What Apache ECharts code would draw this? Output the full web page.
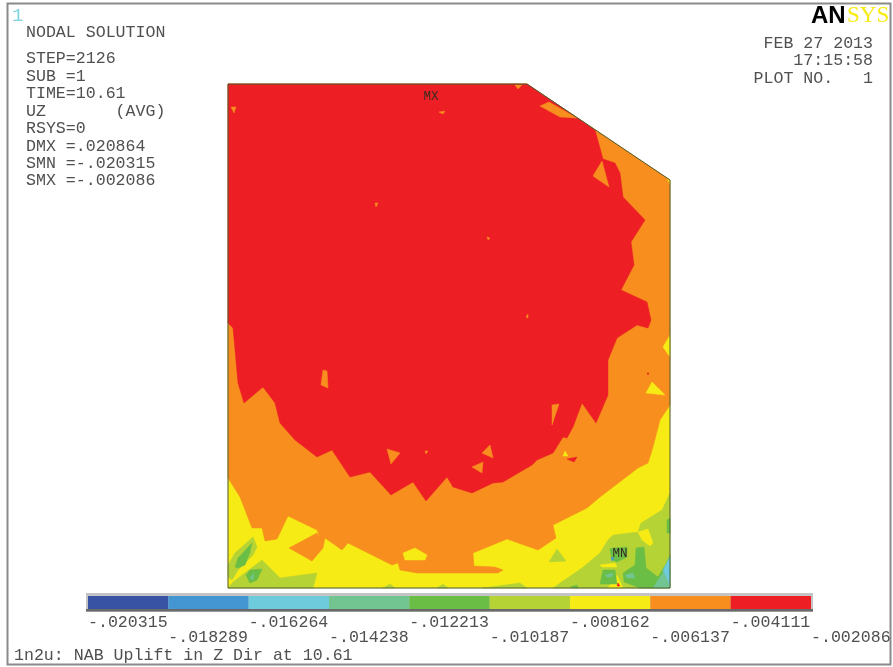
<!DOCTYPE html>
<html><head><meta charset="utf-8">
<style>html,body{margin:0;padding:0;background:#fff}#c{width:893px;height:667px}</style>
<script src="https://cdn.jsdelivr.net/npm/echarts@6/dist/echarts.min.js"></script>
</head><body><div id="c"></div>
<script>
// Contour band colours, lowest to highest
const bandColors = ['#3953a4','#4496d2','#6dcbdc','#72c490','#6abd45','#b5d334','#f6eb14','#f78e1e','#ed1f24'];
// Contour level tick labels
const tickLabels = ['-.020315','-.018289','-.016264','-.014238','-.012213','-.010187','-.008162','-.006137','-.004111','-.002086'];
// Plate outline in plate units
const plateOutline = [[0,0],[299,0],[442,96],[442,504],[0,504]];
// Contour regions, in plate units, painted in order: [band, points]
const baseYellow = [[6, plateOutline]];
const orangeZone = [[7, [[0,0],[299,0],[442,96],[442,321],[432,336],[425,363],[420,379],[410,384],[372,413],[359,424],[325,441],[328,454],[310,466],[279,455],[245,469],[246,482],[267,483],[275,486],[270,489],[189,489],[172,486],[170,479],[164,481],[120,459],[114,466],[97,454],[95,464],[84,477],[61,464],[89,449],[92,453],[89,446],[60,432],[49,455],[37,457],[34,444],[24,444],[12,413],[0,394]]]];
const redZone = [[8, [[0,0],[299,0],[367,46],[375,75],[387,79],[392,89],[395,113],[417,136],[403,158],[406,181],[393,206],[419,218],[423,236],[420,244],[409,241],[389,254],[380,276],[380,311],[368,339],[354,319],[345,343],[339,354],[335,353],[325,369],[309,376],[304,381],[275,398],[265,399],[244,409],[225,403],[219,393],[198,417],[185,398],[163,411],[142,388],[122,393],[104,366],[89,373],[67,356],[52,339],[47,319],[35,303],[16,319],[10,299],[5,244],[0,239]]]];
const orangeIslands = [
  [7,[[374,77],[365,92],[381,103]]],[7,[[312,22],[321,18],[349,34],[332,33]]],[7,[[95,286],[93,301],[100,304],[99,287]]],
  [7,[[324,321],[324,341],[331,320]]],[7,[[159,365],[163,380],[172,369]]],[7,[[254,369],[262,361],[265,374]]],
  [7,[[244,383],[255,378],[254,389]]],[7,[[3,23],[8,23],[6,29]]],[7,[[287,1],[294,1],[290,5]]],[7,[[211,28],[217,27],[215,30]]],
  [7,[[147,119],[150,119],[148,123]]],[7,[[259,153],[262,154],[260,156]]],[7,[[298,233],[300,230],[300,234]]],[7,[[197,367],[200,367],[198,370]]]
];
const redSpecks = [[8,[[339,375],[346,378],[349,373]]],[8,[[419,289],[421,289],[420,291]]]];
const yellowIslands = [
  [6,[[337,367],[340,372],[335,372]]],[6,[[442,251],[435,263],[442,273]]],[6,[[424,298],[418,309],[437,311]]],
  [6,[[175,469],[187,464],[199,471],[197,476],[177,476]]],[6,[[439,94],[442,96],[442,100]]]
];
const limeZones = [
  [5,[[0,481],[7,469],[25,453],[29,463],[25,471],[10,486],[4,496],[0,493]]],
  [5,[[0,504],[5,498],[34,476],[52,494],[89,489],[85,504]]],
  [5,[[325,504],[354,484],[372,469],[380,456],[385,451],[410,448],[413,439],[434,426],[442,409],[442,504]]],
  [5,[[329,465],[321,478],[338,477]]],[5,[[155,504],[162,500],[167,504]]],[5,[[209,504],[215,500],[220,504]]],[5,[[255,504],[292,499],[299,504]]]
];
const yellowOverLime = [[6,[[410,448],[420,445],[425,459],[422,462],[414,456]]],[6,[[372,481],[387,479],[389,483],[374,483]]],[6,[[380,504],[389,491],[395,504]]]];
const greenZones = [
  [4,[[7,483],[10,474],[24,459],[22,468],[17,481],[10,484]]],[4,[[18,491],[22,486],[34,485],[29,496],[22,499]]],
  [4,[[372,500],[375,486],[387,486],[389,500]]],
  [4,[[395,489],[407,481],[408,464],[416,463],[418,484],[430,493],[439,478],[442,471],[442,504],[412,504],[396,498]]],
  [4,[[382,465],[385,464],[399,463],[399,473],[389,478],[384,476]]],[4,[[439,436],[442,434],[442,449],[439,449]]],[4,[[342,503],[349,501],[350,504]]]
];
const tealZones = [[3,[[377,491],[385,489],[384,493],[379,493]]],[3,[[397,491],[405,489],[407,494],[399,494]]],[3,[[425,504],[430,496],[442,478],[442,504]]],[3,[[22,494],[26,489],[25,496]]]];
const blueZones = [[2,[[435,486],[442,473],[442,501]]],[1,[[383,473],[386,474],[384,477]]]];
const bottomSpeck = [[8,[[389,502],[392,502],[390,499]]]];
const regions = [].concat(baseYellow, orangeZone, redZone, orangeIslands, redSpecks, yellowIslands, limeZones, yellowOverLime, greenZones, tealZones, blueZones, bottomSpeck);
// Extremum markers in plate units
const extremes = [[203,13,'MX'],[392,470,'MN']];
// Annotation text
const infoLines = ['NODAL SOLUTION','STEP=2126','SUB =1','TIME=10.61','UZ       (AVG)','RSYS=0','DMX =.020864','SMN =-.020315','SMX =-.002086'];
const stampLines = ['FEB 27 2013','17:15:58','PLOT NO.   1'];
const footerText = '1n2u: NAB Uplift in Z Dir at 10.61';

const mono = '"Liberation Mono", monospace';
const ink = '#505050';
const infoY = [33,59,77,94,112,129,147,164,181];
const stampY = [44,61,79];
function txt(text,x,y,o){
  return {type:'text',style:Object.assign({text,x,y,fill:ink,font:'16.6px '+mono,align:'left',verticalAlign:'middle'},o||{})};
}
const graphics = [
  {type:'rect',shape:{x:7.5,y:3.5,width:883,height:661},style:{fill:'none',stroke:'#8a8a8a',lineWidth:2}},
  txt('1',12,16,{fill:'#7fd3e0',font:'19px '+mono}),
  txt(footerText,14,656),
  txt('AN',811,16,{fill:'#000',font:'bold 24px "Liberation Sans", sans-serif'}),
  txt('SYS',847,16,{fill:'#f6eb14',font:'23px "Liberation Serif", serif'})
];
infoLines.forEach((t,i)=>graphics.push(txt(t,26,infoY[i])));
stampLines.forEach((t,i)=>graphics.push(txt(t,873,stampY[i],{align:'right'})));

const chart = echarts.init(document.getElementById('c'),null,{renderer:'canvas'});
chart.setOption({
  animation:false,
  backgroundColor:'#fff',
  graphic:{elements:graphics},
  grid:[
    {left:228,top:84,width:442,height:504,containLabel:false},
    {left:88,top:596,width:723,height:13,containLabel:false}
  ],
  xAxis:[
    {gridIndex:0,type:'value',min:0,max:442,show:false},
    {gridIndex:1,type:'value',min:0,max:9,show:false}
  ],
  yAxis:[
    {gridIndex:0,type:'value',min:0,max:504,inverse:true,show:false},
    {gridIndex:1,type:'value',min:0,max:1,show:false}
  ],
  series:[
    {type:'custom',xAxisIndex:0,yAxisIndex:0,clip:false,silent:true,
     data:regions.map((r,i)=>[i,r[0]]),
     renderItem:function(p,api){
       const r=regions[p.dataIndex];
       return {type:'polygon',shape:{points:r[1].map(q=>api.coord(q))},style:{fill:bandColors[r[0]],stroke:bandColors[r[0]],lineWidth:0.5}};
     }},
    {type:'custom',xAxisIndex:0,yAxisIndex:0,clip:false,silent:true,z:3,
     data:[0],
     renderItem:function(p,api){
       return {type:'polygon',shape:{points:plateOutline.map(q=>api.coord(q))},style:{fill:'none',stroke:'#4d5a3a',lineWidth:1}};
     }},
    {type:'custom',xAxisIndex:0,yAxisIndex:0,clip:false,silent:true,z:4,
     data:extremes.map((e,i)=>[e[0],e[1],i]),
     renderItem:function(p,api){
       const e=extremes[p.dataIndex],c=api.coord([e[0],e[1]]);
       return {type:'text',style:{text:e[2],x:c[0],y:c[1],fill:'#3a2a20',font:'12.5px '+mono,align:'center',verticalAlign:'middle'}};
     }},
    {type:'custom',xAxisIndex:1,yAxisIndex:1,clip:false,silent:true,z:1,
     data:[0],
     renderItem:function(p,api){
       const a=api.coord([0,1]),b=api.coord([9,0]);
       return {type:'group',children:[
         {type:'rect',shape:{x:a[0]-2,y:a[1]-3,width:b[0]-a[0]+4,height:b[1]-a[1]+6},style:{fill:'#c4c4c4'}},
         {type:'rect',shape:{x:a[0]-2,y:b[1],width:b[0]-a[0]+4,height:2.5},style:{fill:'#6a6a6a'}}
       ]};
     }},
    {type:'custom',xAxisIndex:1,yAxisIndex:1,clip:false,silent:true,z:2,
     data:bandColors.map((c,i)=>[i,i+1]),
     renderItem:function(p,api){
       const a=api.coord([api.value(0),1]),b=api.coord([api.value(1),0]);
       return {type:'rect',shape:{x:a[0],y:a[1],width:b[0]-a[0],height:b[1]-a[1]},style:{fill:bandColors[p.dataIndex]}};
     }},
    {type:'custom',xAxisIndex:1,yAxisIndex:1,clip:false,silent:true,z:2,
     data:tickLabels.map((t,i)=>[i]),
     renderItem:function(p,api){
       const i=p.dataIndex,c=api.coord([i,0]);
       return {type:'text',style:{text:tickLabels[i],x:c[0],y:c[1]+(i%2?29:14),fill:ink,font:'16.6px '+mono,align:'left',verticalAlign:'middle'}};
     }}
  ]
});
</script></body></html>
